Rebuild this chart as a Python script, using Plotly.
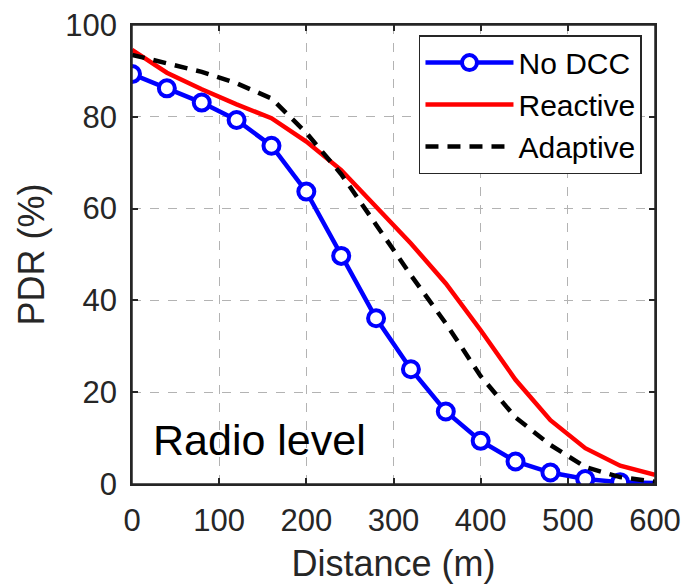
import plotly.graph_objects as go

distance = [0, 40, 80, 120, 160, 200, 240, 280, 320, 360, 400, 440, 480, 520, 560, 600]
no_dcc = [89.3, 86.2, 83.1, 79.3, 73.7, 63.7, 49.7, 36.1, 25.0, 15.8, 9.4, 4.9, 2.5, 1.1, 0.4, 0.2]
reactive = [94.6, 89.6, 86.0, 82.7, 79.7, 74.6, 68.4, 60.5, 52.4, 43.7, 33.5, 22.7, 13.9, 7.8, 4.0, 2.0]
adaptive = [93.5, 91.6, 89.8, 87.3, 84.0, 76.5, 67.5, 56.5, 45.5, 35.0, 23.5, 14.5, 8.5, 3.7, 1.5, 0.5]

x_ticks = [0, 100, 200, 300, 400, 500, 600]
y_ticks = [0, 20, 40, 60, 80, 100]

FONT = "Liberation Sans, Arial, sans-serif"
marker_sizes = [16] * (len(distance) - 1) + [0]

fig = go.Figure()
fig.add_trace(go.Scatter(
    x=distance, y=no_dcc, name="No DCC", mode="lines+markers",
    line=dict(color="#0000FF", width=4.5),
    marker=dict(symbol="circle", size=marker_sizes, color="#FFFFFF", opacity=1,
                line=dict(color="#0000FF", width=4)),
))
fig.add_trace(go.Scatter(
    x=distance, y=reactive, name="Reactive", mode="lines",
    line=dict(color="#FF0000", width=4.5),
))
fig.add_trace(go.Scatter(
    x=distance, y=adaptive, name="Adaptive", mode="lines",
    line=dict(color="#000000", width=4.5, dash="13px,9px"),
))

axis_common = dict(
    showline=True, linecolor="#262626", linewidth=1.5, mirror="allticks",
    ticks="inside", ticklen=6, tickcolor="#262626", tickwidth=1.5,
    showgrid=True, gridcolor="#b3b3b3", gridwidth=1, griddash="dash",
    zeroline=False, automargin=False,
    tickfont=dict(family=FONT, size=31, color="#262626"),
)

fig.update_xaxes(
    range=[0, 600], tickvals=x_ticks, ticktext=[str(v) for v in x_ticks],
    ticklabelstandoff=8,
    title=dict(text="Distance (m)", font=dict(family=FONT, size=36, color="#262626"), standoff=14),
    **axis_common,
)
fig.update_yaxes(
    range=[0, 100], tickvals=y_ticks, ticktext=[str(v) for v in y_ticks],
    ticklabelstandoff=7,
    title=dict(text="PDR (%)", font=dict(family=FONT, size=36, color="#262626"), standoff=10),
    **axis_common,
)

# plot-area frame (box)
fig.add_shape(
    type="rect", xref="x domain", yref="y domain", x0=0, x1=1, y0=0, y1=1,
    line=dict(color="#262626", width=1.5), layer="above",
)

fig.add_annotation(
    x=22, y=9.6, xref="x", yref="y", text="Radio level", showarrow=False,
    xanchor="left", yanchor="middle",
    font=dict(family=FONT, size=43, color="black"),
)

fig.update_layout(
    width=684, height=588,
    margin=dict(l=132, r=29, t=25, b=104, autoexpand=False),
    paper_bgcolor="white", plot_bgcolor="white",
    showlegend=True,
    legend=dict(
        x=0.9751, y=0.978, xanchor="right", yanchor="top",
        bgcolor="white", bordercolor="#262626", borderwidth=1.5,
        font=dict(family=FONT, size=30, color="black"),
        itemwidth=88, tracegroupgap=0,
    ),
)

fig.write_html(
    "out.html",
    config={"displayModeBar": False},
    post_script="document.body.style.margin='0';document.body.style.overflow='hidden';",
)
